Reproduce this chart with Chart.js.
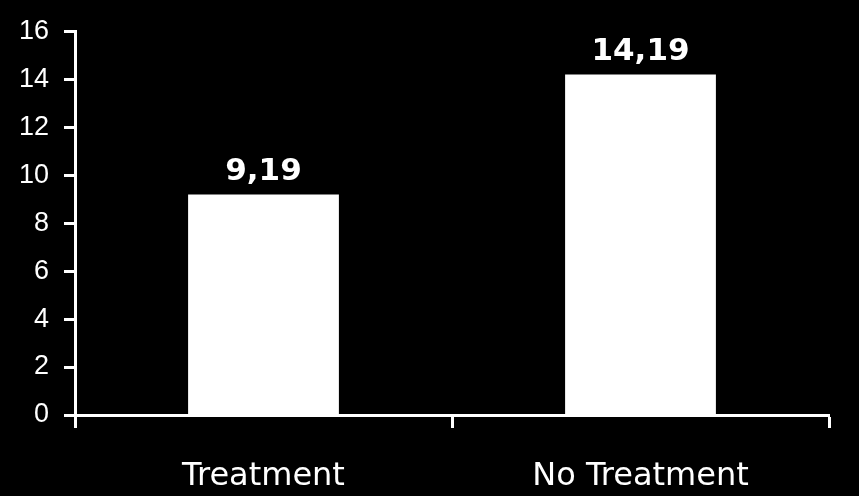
<!DOCTYPE html>
<html>
<head>
<meta charset="utf-8">
<script src="https://cdn.jsdelivr.net/npm/chart.js@4"></script>
<style>
  html, body { margin: 0; padding: 0; background: #000; }
  #wrap { width: 859px; height: 496px; }
</style>
</head>
<body>
<div id="wrap"><canvas id="myChart" width="859" height="496"></canvas></div>
<script>
const categories = ["Treatment", "No Treatment"];
const values = [9.19, 14.19];
const valueLabels = ["9,19", "14,19"];
const yTicks = [0, 2, 4, 6, 8, 10, 12, 14, 16];

// draws the value above each bar
const barLabels = {
    id: "barLabels",
    afterDatasetsDraw(chart) {
        const ctx = chart.ctx;
        const meta = chart.getDatasetMeta(0);
        ctx.save();
        ctx.fillStyle = "#fff";
        ctx.font = "bold 31px 'DejaVu Sans'";
        ctx.textAlign = "center";
        ctx.textBaseline = "alphabetic";
        meta.data.forEach((bar, i) => {
            ctx.fillText(valueLabels[i], bar.x, bar.y - 15);
        });
        ctx.restore();
    }
};

const config = {
    type: "bar",
    data: {
        labels: categories,
        datasets: [{
            data: values,
            backgroundColor: "#fff",
            borderWidth: 0,
            categoryPercentage: 0.4,
            barPercentage: 1
        }]
    },
    options: {
        responsive: false,
        animation: false,
        layout: { padding: { top: 29, right: 30, left: 0, bottom: 0 } },
        plugins: { legend: { display: false }, tooltip: { enabled: false } },
        scales: {
            x: {
                offset: true,
                border: { color: "#fff", width: 3 },
                grid: {
                    offset: true,
                    drawOnChartArea: false,
                    drawTicks: true,
                    tickLength: 13,
                    tickColor: "#fff",
                    tickWidth: 3
                },
                ticks: {
                    color: "#fff",
                    font: { family: "'DejaVu Sans'", size: 32 },
                    padding: 29
                },
                afterFit: (scale) => { scale.height = 81; }
            },
            y: {
                min: 0,
                max: 16,
                border: { color: "#fff", width: 3 },
                grid: {
                    drawOnChartArea: false,
                    drawTicks: true,
                    tickLength: 11,
                    tickColor: "#fff",
                    tickWidth: 3
                },
                afterBuildTicks: (scale) => {
                    scale.ticks = yTicks.map((v) => ({ value: v }));
                },
                ticks: {
                    color: "#fff",
                    font: { family: "'Liberation Sans', Arial", size: 27 },
                    padding: 15
                },
                afterFit: (scale) => { scale.width = 75; }
            }
        }
    },
    plugins: [barLabels]
};

const myChart = new Chart(document.getElementById("myChart"), config);
</script>
</body>
</html>
